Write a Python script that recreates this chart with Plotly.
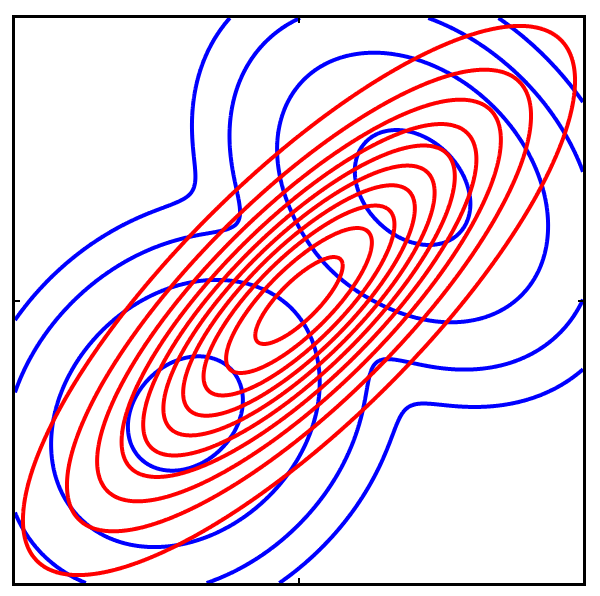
import numpy as np
import plotly.graph_objects as go

# ---- data ----
x_range = [0.0, 1.0]
y_range = [0.0, 1.0]
tick_vals = [0.5]

# blue: bimodal p(Z), a mixture of two Gaussians
mix_weights = [0.5, 0.5]
mix_means = [[0.3, 0.3], [0.7, 0.7]]
mix_covs = [[[0.0100, 0.0023], [0.0023, 0.0100]],
            [[0.0102, -0.0029], [-0.0029, 0.0102]]]
blue_levels = [4.9, 0.5, 0.05, 0.005]

# red: single Gaussian q(Z) minimising KL(p||q)
q_mean = [0.5, 0.5]
q_cov = [[0.05, 0.04], [0.04, 0.05]]
red_levels = [0.5, 1.0, 1.5, 2.0, 2.5, 3.0, 3.5, 4.0, 4.5, 5.0]

# ---- grid ----
n = 601
xs = np.linspace(x_range[0], x_range[1], n)
ys = np.linspace(y_range[0], y_range[1], n)
X, Y = np.meshgrid(xs, ys)


def gauss(mean, cov):
    c = np.array(cov)
    inv = np.linalg.inv(c)
    det = np.linalg.det(c)
    dx = X - mean[0]
    dy = Y - mean[1]
    q = inv[0, 0] * dx * dx + 2 * inv[0, 1] * dx * dy + inv[1, 1] * dy * dy
    return np.exp(-0.5 * q) / (2 * np.pi * np.sqrt(det))


p_mix = sum(w * gauss(m, c) for w, m, c in zip(mix_weights, mix_means, mix_covs))
q_dens = gauss(q_mean, q_cov)

fig = go.Figure()

for lv in blue_levels:
    fig.add_trace(go.Contour(
        x=xs, y=ys, z=p_mix,
        contours=dict(start=lv, end=lv, size=1, coloring='none'),
        line=dict(color='#0000ff', width=4, smoothing=1.0),
        showscale=False, hoverinfo='skip', autocontour=False,
    ))

for lv in red_levels:
    fig.add_trace(go.Contour(
        x=xs, y=ys, z=q_dens,
        contours=dict(start=lv, end=lv, size=1, coloring='none'),
        line=dict(color='#ff0000', width=4, smoothing=1.0),
        showscale=False, hoverinfo='skip', autocontour=False,
    ))

axis_common = dict(
    showgrid=False, zeroline=False, showline=True, linecolor='black',
    linewidth=3, mirror='ticks', ticks='inside', ticklen=5, tickwidth=2,
    tickcolor='black', tickvals=tick_vals, showticklabels=False,
)

fig.update_layout(
    width=600, height=596,
    margin=dict(l=7, r=25, t=7, b=21),
    paper_bgcolor='white', plot_bgcolor='white',
    showlegend=False,
    xaxis=dict(range=x_range, **axis_common),
    yaxis=dict(range=y_range, **axis_common),
)

fig.write_html("out.html")
